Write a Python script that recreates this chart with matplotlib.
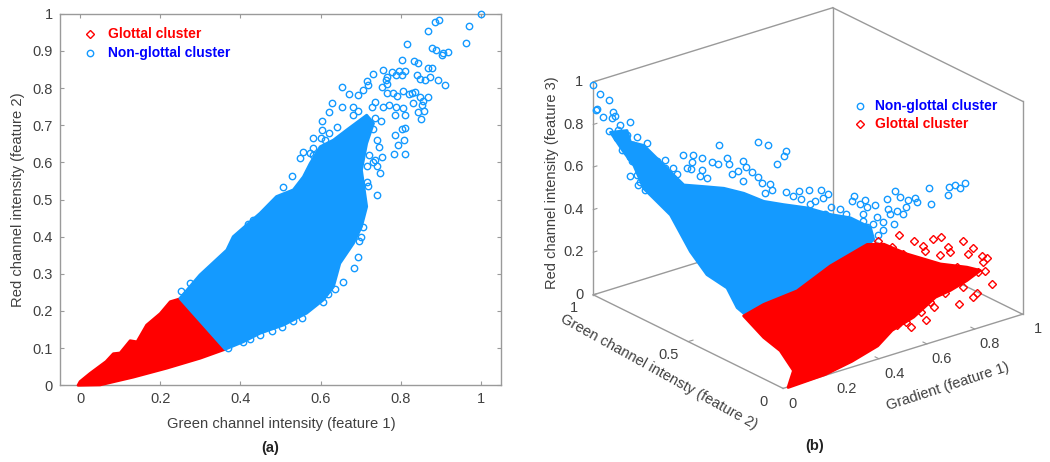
import matplotlib
matplotlib.use("Agg")
import matplotlib.pyplot as plt
from matplotlib.lines import Line2D
from mpl_toolkits.mplot3d.art3d import Poly3DCollection

plt.rcParams['font.family'] = ['Liberation Sans', 'DejaVu Sans']

BLUE = '#149aff'
RED = '#ff0000'
GRAY = '#404040'
EDGE = '#9a9a9a'

# panel (a): outlines of the solid clouds
a_red_x = [-0.005,0.0,0.025,0.05,0.065,0.083,0.1,0.125,0.142,0.166,0.2,0.225,0.25,0.362,0.3,0.216,0.133,0.05,0.0]
a_red_y = [0.0,0.01,0.032,0.052,0.064,0.085,0.087,0.12,0.117,0.162,0.193,0.225,0.233,0.097,0.073,0.046,0.022,0.001,0.0]
a_blue_x = [.249,.299,.366,.382,.449,.49,.532,.557,.574,.599,.632,.665,.715,.732,.715,.702,.715,.702,.682,.648,.632,.607,.565,.507,.449,.407,.362]
a_blue_y = [.234,.297,.364,.40,.463,.508,.526,.561,.597,.642,.66,.687,.727,.705,.651,.579,.481,.427,.382,.328,.265,.23,.194,.162,.14,.117,.097]
# panel (a): separate points outside the cloud
a_pts_x = [1.0,.971,.963,.895,.886,.868,.815,.879,.888,.917,.906,.902,.804,.834,.843,.869,.879,.756,.73,.777,.795,.811,.789,.803,.84,.848,.86,.872,.892,.911,.715,.719,.707,.654,.671,.694,.752,.765,.762,.765,.766,.781,.79,.806,.821,.827,.835,.848,.867,.831,.856,.854,.859,.844,.85,.628,.621,.654,.682,.694,.682,.727,.736,.756,.77,.789,.805,.786,.81,.802,.81,.786,.808,.794,.81,.782,.754,.735,.74,.748,.74,.715,.719,.707,.70,.696,.694,.683,.655,.636,.619,.607,.553,.532,.503,.48,.449,.424,.407,.37,.549,.557,.574,.582,.603,.58,.603,.528,.505,.432,.42,.274,.252,
           .73,.74,.745,.72,.73,.715,.62,.64,.6,.58,.61,.75,.735]
a_pts_y = [1.0,.966,.922,.984,.978,.953,.918,.908,.902,.896,.895,.888,.876,.874,.866,.854,.855,.848,.838,.843,.846,.845,.836,.834,.836,.823,.822,.83,.822,.807,.819,.807,.796,.802,.784,.782,.802,.829,.822,.811,.786,.787,.778,.792,.783,.787,.788,.775,.776,.759,.765,.754,.739,.735,.717,.759,.735,.749,.75,.739,.727,.75,.763,.748,.754,.75,.745,.727,.727,.689,.692,.674,.66,.648,.623,.623,.615,.606,.591,.57,.511,.548,.535,.425,.398,.387,.344,.315,.277,.258,.246,.225,.182,.173,.158,.147,.135,.124,.117,.101,.611,.629,.624,.638,.687,.665,.71,.564,.533,.445,.434,.274,.255,
           .69,.66,.64,.62,.6,.59,.68,.695,.665,.62,.66,.71,.72]
a_xticks = [0,.2,.4,.6,.8,1]
a_xticklabels = ['0','0.2','0.4','0.6','0.8','1']
a_yticks = [0,.1,.2,.3,.4,.5,.6,.7,.8,.9,1]
a_yticklabels = ['0','0.1','0.2','0.3','0.4','0.5','0.6','0.7','0.8','0.9','1']

# panel (b): outlines of the solid clouds (gradient, green, red)
b_blue_x = [0.0,0.011,0.0,0.035,0.052,0.068,0.085,0.146,0.207,0.261,0.309,0.366,0.435,0.497,0.554,0.599,0.586,0.552,0.394,0.238,0.104,0.027,0.012,0.019,0.0,0.0,0.0,0.0,0.0,0.0,0.0]
b_blue_y = [0.912,0.839,0.807,0.781,0.732,0.682,0.633,0.604,0.576,0.539,0.494,0.462,0.425,0.38,0.347,0.298,0.265,0.256,0.251,0.229,0.236,0.227,0.26,0.322,0.404,0.491,0.596,0.684,0.737,0.789,0.842]
b_blue_z = [0.804,0.841,0.805,0.788,0.742,0.696,0.65,0.634,0.617,0.591,0.556,0.535,0.512,0.479,0.458,0.418,0.382,0.367,0.33,0.277,0.257,0.233,0.263,0.326,0.359,0.429,0.555,0.594,0.617,0.703,0.742]
b_red_x = [0.017,0.104,0.238,0.394,0.555,0.609,0.664,0.751,0.83,0.866,0.804,0.73,0.669,0.56,0.464,0.393,0.285,0.173,0.019,0.019,0.068,0.065,0.038]
b_red_y = [0.232,0.236,0.229,0.251,0.26,0.24,0.187,0.121,0.081,0.056,0.048,0.043,0.044,0.021,0.014,0.0,0.0,0.0,0.0,0.0,0.034,0.1,0.153]
b_red_z = [0.235,0.257,0.277,0.33,0.371,0.362,0.32,0.272,0.247,0.23,0.208,0.189,0.178,0.133,0.107,0.065,0.03,0.007,0.0,0.002,0.047,0.113,0.161]
# panel (b): separate points outside the clouds
b_red_pts_x = [0.675,0.713,0.776,0.806,0.871,0.886,0.732,0.728,0.807,0.808,0.768,0.861,0.902,0.911,0.894,0.881,0.858,0.876,0.814,0.794,0.736,0.597,0.536,0.525,0.596,0.646,0.708,0.598,0.602,0.629,0.653,0.675,0.798,0.828,0.758,0.562,0.643,0.49,0.716,0.78]
b_red_pts_y = [0.242,0.209,0.192,0.187,0.15,0.12,0.185,0.171,0.152,0.138,0.142,0.11,0.088,0.077,0.073,0.049,0.054,0.007,0.003,0.0,0.0,0.0,0.0,0.016,0.023,0.019,0.041,0.253,0.232,0.222,0.191,0.166,0.093,0.06,0.06,0.042,0.038,0.02,0.06,0.035]
b_red_pts_z = [0.377,0.352,0.347,0.348,0.324,0.297,0.331,0.317,0.314,0.299,0.296,0.282,0.269,0.259,0.252,0.225,0.226,0.182,0.165,0.151,0.139,0.113,0.101,0.121,0.142,0.148,0.182,0.373,0.352,0.348,0.322,0.301,0.253,0.226,0.211,0.154,0.167,0.118,0.203,0.19]
b_blue_pts_x = [0.0,0.0,0.014,0.0,0.0,0.0,0.005,0.001,0.0,0.0,0.0,0.039,0.0,0.001,0.03,0.049,0.0,0.0,0.0,0.0,0.0,0.075,0.085,0.143,0.173,0.196,0.128,0.158,0.142,0.175,0.22,0.237,0.271,0.277,0.279,0.409,0.435,0.479,0.464,0.426,0.324,0.321,0.261,0.288,0.329,0.341,0.284,0.34,0.363,0.357,0.331,0.399,0.444,0.477,0.515,0.531,0.414,0.435,0.476,0.507,0.515,0.593,0.611,0.613,0.637,0.658,0.708,0.75,0.755,0.775,0.801,0.801,0.867,0.84,0.911,0.932,0.956,0.965,0.992,0.754,0.732,0.682,0.635,0.61,0.616,0.604,0.55,0.451,0.588,0.083,0.155,0.173,
                 0,0,0,0,0,0,0,0,0,0,0,0,0,0.59,0.64,0.651,0.689,0.628,0.539,0.48,0.452,0.694,0.717]
b_blue_pts_y = [1.0,0.963,0.937,0.979,0.984,0.951,0.901,0.889,0.904,0.916,0.86,0.856,0.874,0.826,0.81,0.781,0.851,0.798,0.804,0.763,0.728,0.718,0.687,0.706,0.695,0.677,0.67,0.678,0.662,0.647,0.654,0.64,0.627,0.647,0.688,0.647,0.63,0.591,0.581,0.569,0.618,0.601,0.601,0.599,0.581,0.561,0.568,0.542,0.528,0.511,0.513,0.49,0.475,0.466,0.451,0.432,0.469,0.452,0.43,0.428,0.395,0.387,0.396,0.368,0.373,0.346,0.348,0.357,0.336,0.318,0.317,0.303,0.324,0.281,0.283,0.302,0.3,0.286,0.292,0.304,0.291,0.275,0.274,0.269,0.302,0.339,0.36,0.375,0.302,0.666,0.633,0.621,
                 0.868,0.833,0.789,0.754,0.807,0.772,0.719,0.667,0.623,0.719,0.754,0.684,0.64,0.322,0.315,0.294,0.307,0.352,0.38,0.386,0.429,0.321,0.307]
b_blue_pts_z = [0.987,0.96,0.94,0.884,0.877,0.858,0.902,0.89,0.871,0.806,0.859,0.863,0.793,0.827,0.816,0.791,0.746,0.715,0.645,0.621,0.613,0.733,0.704,0.735,0.729,0.716,0.696,0.71,0.69,0.682,0.698,0.688,0.682,0.702,0.744,0.728,0.717,0.687,0.674,0.654,0.683,0.665,0.653,0.657,0.646,0.629,0.625,0.61,0.6,0.582,0.579,0.57,0.564,0.562,0.554,0.538,0.551,0.539,0.525,0.529,0.498,0.505,0.518,0.491,0.501,0.478,0.49,0.508,0.487,0.473,0.477,0.463,0.498,0.448,0.465,0.488,0.492,0.479,0.49,0.455,0.437,0.412,0.401,0.391,0.426,0.46,0.47,0.466,0.42,0.683,0.664,0.656,
                 0.832,0.777,0.797,0.774,0.734,0.664,0.789,0.774,0.762,0.672,0.64,0.75,0.723,0.44,0.443,0.424,0.445,0.478,0.488,0.482,0.519,0.46,0.45]
b_xticks = [.2,.4,.6,.8]
b_yticks = [.5]
b_zticks = [0,.2,.4,.6,.8,1]
b_zticklabels = ['0','0.2','0.4','0.6','0.8','1']

fig = plt.figure(figsize=(10.5,4.62),dpi=100)

def fx(px):
    return px/1050
def fy(px):
    return 1-px/462

# (a)
ax = fig.add_axes([fx(60),fy(385.3),441/1050,371.6/462])
ax.fill(a_red_x,a_red_y,color=RED,lw=2,joinstyle='round',clip_on=False,zorder=3)
ax.fill(a_blue_x,a_blue_y,color=BLUE,lw=2,joinstyle='round',zorder=3)
ax.plot(a_pts_x,a_pts_y,'o',ms=4.6,mfc='none',mec=BLUE,mew=1,clip_on=False,zorder=3)
ax.set_xlim(-.05,1.05)
ax.set_ylim(0,1)
ax.set_xticks(a_xticks,a_xticklabels)
ax.set_yticks(a_yticks,a_yticklabels)
ax.tick_params(direction='in',top=True,right=True,length=3,width=.8,color=EDGE,labelcolor=GRAY,labelsize=10.5,pad=5)
for s in ax.spines.values():
    s.set_color(EDGE)
    s.set_linewidth(1)
fig.text(fx(281),fy(424),'Green channel intensity (feature 1)',color=GRAY,fontsize=10.6,ha='center',va='center')
fig.text(fx(18),fy(200),'Red channel intensity (feature 2)',color=GRAY,fontsize=10.6,ha='center',va='center',rotation=90)
fig.text(fx(270),fy(448),'(a)',color='#222222',fontsize=10.5,fontweight='bold',ha='center',va='center')
for py,mk,ms,c,col,lab in [(34,'D',3.7,RED,RED,'Glottal cluster'),(53,'o',4.6,BLUE,'#0000ff','Non-glottal cluster')]:
    fig.add_artist(Line2D([fx(90)],[fy(py)],marker=mk,ms=ms,mfc='none',mec=c,mew=1,ls='none',transform=fig.transFigure))
    fig.text(fx(108),fy(py),lab,color=col,fontsize=10,fontweight='bold',va='center')

# (b)
ax3 = fig.add_axes([(801.7-262.5)/1050,(257.7-231)/462,.5,1],projection='3d',proj_type='ortho',computed_zorder=False)
ax3.view_init(elev=23,azim=-128.4)
ax3.set_box_aspect((1,1,.757),zoom=1.03)
ax3.set_xticks([])
ax3.set_yticks([])
ax3.set_zticks([])
ax3.set_xlim(0,1,view_margin=0)
ax3.set_ylim(0,1,view_margin=0)
ax3.set_zlim(0,1,view_margin=0)
ax3.set_axis_off()
ax3.patch.set_alpha(0)

box_edges = [((0,1,1),(1,1,1)),((1,1,1),(1,0,1)),((1,1,1),(1,1,0)),((0,1,0),(1,1,0)),((1,1,0),(1,0,0)),
             ((0,1,1),(0,1,0)),((0,1,0),(0,0,0)),((0,0,0),(1,0,0)),((1,0,0),(1,0,1))]
for e0,e1 in box_edges:
    ax3.plot(*zip(e0,e1),color=EDGE,lw=1,zorder=1)
for v in b_xticks:
    ax3.plot([v,v],[0,.02],[0,0],color=EDGE,lw=.8,zorder=1)
    ax3.text(v,-.08,-.035,f'{v:g}',color=GRAY,fontsize=10.5,ha='center',va='center')
ax3.text(0,-.05,-.05,'0',color=GRAY,fontsize=10.5,ha='center',va='center')
ax3.text(1.0,-.08,-.035,'1',color=GRAY,fontsize=10.5,ha='center',va='center')
for v in b_yticks:
    ax3.plot([0,.02],[v,v],[0,0],color=EDGE,lw=.8,zorder=1)
    ax3.text(-.08,v,-.035,f'{v:g}',color=GRAY,fontsize=10.5,ha='center',va='center')
ax3.text(-.08,0,-.035,'0',color=GRAY,fontsize=10.5,ha='center',va='center')
ax3.text(-.08,1,-.035,'1',color=GRAY,fontsize=10.5,ha='center',va='center')
for v,lab in zip(b_zticks,b_zticklabels):
    ax3.plot([0,.015],[1,1],[v,v],color=EDGE,lw=.8,zorder=1)
    ax3.text(-.026,1.02,v,lab,color=GRAY,fontsize=10.5,ha='right',va='center')

ax3.add_collection3d(Poly3DCollection([list(zip(b_blue_x,b_blue_y,b_blue_z))],facecolor=BLUE,edgecolor=BLUE,linewidth=2,zorder=2))
ax3.plot(b_blue_pts_x,b_blue_pts_y,b_blue_pts_z,'o',ms=4.6,mfc='none',mec=BLUE,mew=1,zorder=3)
ax3.add_collection3d(Poly3DCollection([list(zip(b_red_x,b_red_y,b_red_z))],facecolor=RED,edgecolor=RED,linewidth=2,zorder=4))
ax3.plot(b_red_pts_x,b_red_pts_y,b_red_pts_z,'D',ms=3.7,mfc='none',mec=RED,mew=1,zorder=5)

fig.text(fx(659),fy(372),'Green channel intensty (feature 2)',color=GRAY,fontsize=10.5,ha='center',va='center',rotation=-29,rotation_mode='anchor')
fig.text(fx(948),fy(387),'Gradient (feature 1)',color=GRAY,fontsize=10.5,ha='center',va='center',rotation=18,rotation_mode='anchor')
fig.text(fx(552),fy(183),'Red channel intensity (feature 3)',color=GRAY,fontsize=10.5,ha='center',va='center',rotation=90)
fig.text(fx(815),fy(446),'(b)',color='#222222',fontsize=10.5,fontweight='bold',ha='center',va='center')
for py,mk,ms,c,col,lab in [(105.7,'o',4.6,BLUE,'#0000ff','Non-glottal cluster'),(124.3,'D',3.7,RED,RED,'Glottal cluster')]:
    fig.add_artist(Line2D([fx(860)],[fy(py)],marker=mk,ms=ms,mfc='none',mec=c,mew=1,ls='none',transform=fig.transFigure))
    fig.text(fx(875),fy(py),lab,color=col,fontsize=10,fontweight='bold',va='center')

fig.savefig('out.png',dpi=100)
